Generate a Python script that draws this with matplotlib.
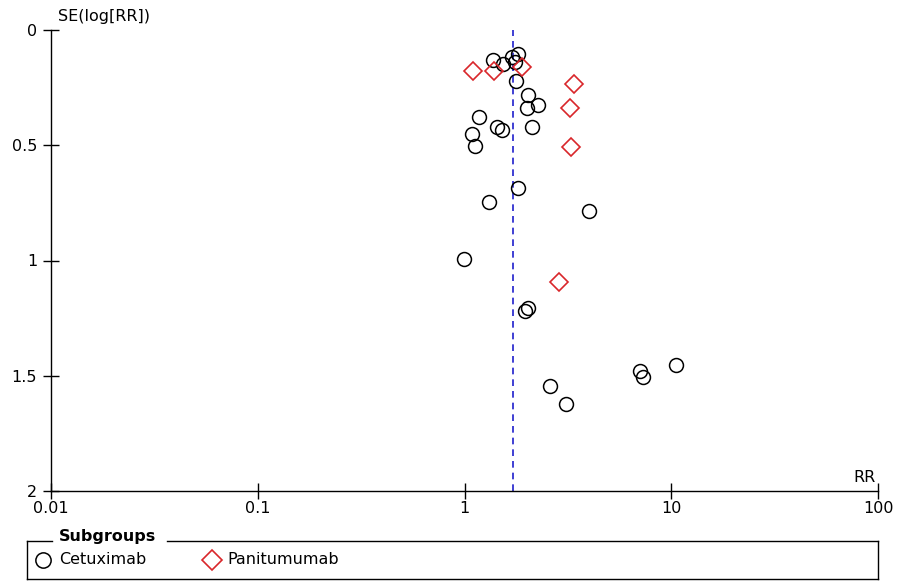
import numpy as np
import matplotlib.pyplot as plt
from matplotlib.lines import Line2D

plt.rcParams['font.family'] = ['DejaVu Sans']

# funnel plot data: risk ratio and SE(log RR)
cetux_rr = [1.37, 1.53, 1.70, 1.82, 1.75, 1.78, 2.03, 2.27, 2.00, 1.17, 1.44, 1.51,
            2.11, 1.09, 1.13, 1.82, 1.32, 4.01, 0.99, 2.02, 1.96, 2.58, 3.08,
            7.10, 7.34, 10.5]
cetux_se = [0.131, 0.148, 0.116, 0.104, 0.138, 0.221, 0.282, 0.325, 0.337, 0.376, 0.419, 0.434,
            0.422, 0.453, 0.502, 0.687, 0.745, 0.785, 0.993, 1.206, 1.218, 1.545, 1.623,
            1.479, 1.505, 1.453]
panit_rr = [1.10, 1.39, 1.89, 3.39, 3.23, 3.28, 2.85]
panit_se = [0.180, 0.176, 0.159, 0.234, 0.340, 0.506, 1.093]
pooled_rr = 1.71

xticks = [0.01, 0.1, 1, 10, 100]
xlabels = ['0.01', '0.1', '1', '10', '100']
yticks = [0, 0.5, 1, 1.5, 2]
ylabels = ['0', '0.5', '1', '1.5', '2']

FS = 11.5
W, H = 899, 581
fig = plt.figure(figsize=(W / 100, H / 100), dpi=100)
ax = fig.add_axes([51 / W, 1 - 491 / H, (878 - 51) / W, (491 - 30) / H])

ax.set_xscale('log')
ax.set_xlim(0.01, 100)
ax.set_ylim(2, 0)
ax.axvline(pooled_rr, color='#1f1fcc', lw=1.2, ls=(0, (4, 3)), zorder=1)

ax.plot(cetux_rr, cetux_se, 'o', ms=10, mfc='none', mec='black', mew=1.1, zorder=3, clip_on=False)
ax.plot(panit_rr, panit_se, 'D', ms=9, mfc='none', mec='#d9262a', mew=1.2, zorder=3, clip_on=False)

ax.spines['top'].set_visible(False)
ax.spines['right'].set_visible(False)
for s in ['left', 'bottom']:
    ax.spines[s].set_linewidth(1.0)
ax.set_xticks(xticks)
ax.set_xticklabels(xlabels)
ax.xaxis.set_minor_locator(plt.NullLocator())
ax.set_yticks(yticks)
ax.set_yticklabels(ylabels)
ax.tick_params(axis='both', direction='inout', length=12, width=1.0, labelsize=FS, pad=1)
ax.tick_params(axis='y', pad=4)

fig.text(58 / W, 1 - 17 / H, 'SE(log[RR])', fontsize=FS, va='center', ha='left')
fig.text(876 / W, 1 - 477 / H, 'RR', fontsize=FS, va='center', ha='right')

# legend box with title breaking the top border
def fx(x):
    return x / W

def fy(y):
    return 1 - y / H

box_l, box_r, box_t, box_b = 27, 878, 541, 579
segs = [((box_l, 52), (box_t, box_t)), ((167, box_r), (box_t, box_t)),
        ((box_r, box_r), (box_t, box_b)), ((box_l, box_r), (box_b, box_b)),
        ((box_l, box_l), (box_t, box_b))]
for xs, ys in segs:
    fig.add_artist(Line2D([fx(x) for x in xs], [fy(y) for y in ys], color='black', lw=1.0))
fig.text(fx(59), fy(537), 'Subgroups', fontsize=FS, fontweight='bold', va='center', ha='left')
fig.add_artist(Line2D([fx(43)], [fy(560)], marker='o', ms=11, mfc='none', mec='black', mew=1.1))
fig.text(fx(59), fy(560), 'Cetuximab', fontsize=FS, va='center', ha='left')
fig.add_artist(Line2D([fx(212)], [fy(560)], marker='D', ms=10.5, mfc='none', mec='#d9262a', mew=1.2))
fig.text(fx(227), fy(560), 'Panitumumab', fontsize=FS, va='center', ha='left')

fig.savefig('out.png', dpi=100)
